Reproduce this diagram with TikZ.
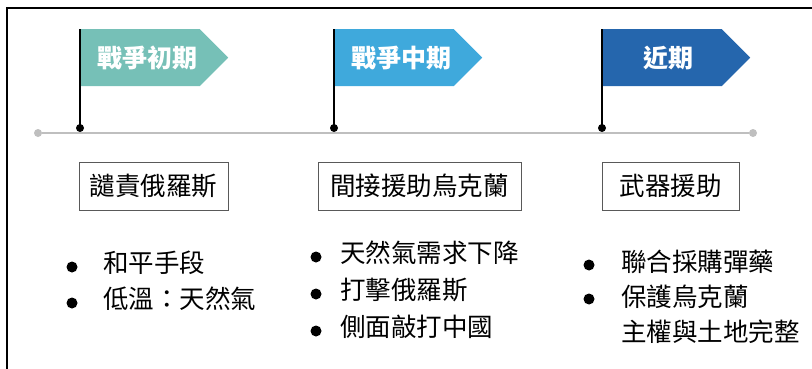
\documentclass[tikz,border=0pt]{standalone}
\usepackage{fontspec}
\newfontfamily\cjk{Noto Sans CJK TC}
\usepackage{tikz}
\usetikzlibrary{shapes.symbols}
\definecolor{flagteal}{HTML}{76C0B7}
\definecolor{flagblue}{HTML}{3FA9DC}
\definecolor{flagnavy}{HTML}{2566AD}
\definecolor{linegray}{HTML}{BFBFBF}
\definecolor{boxgray}{HTML}{595959}

\begin{document}
\begin{tikzpicture}[x=1pt,y=-1pt,
  flag/.style={shape=signal, signal to=east, signal pointer angle=90,
    minimum height=57pt, minimum width=147pt, inner sep=0pt, anchor=north west,
    text=white, font=\cjk\bfseries\fontsize{25}{30}\selectfont},
  phase/.style={draw=boxgray, line width=0.8pt, minimum height=48pt, inner sep=0pt,
    font=\cjk\fontsize{25.5}{30}\selectfont},
  item/.style={anchor=west, inner sep=0pt, font=\cjk\fontsize{25.5}{30}\selectfont},
  listdot/.style={circle, fill=black, inner sep=0pt, minimum size=11pt},
  enddot/.style={circle, fill=linegray, inner sep=0pt, minimum size=8pt},
  poledot/.style={circle, fill=black, inner sep=0pt, minimum size=8pt}]
\useasboundingbox (0,0) rectangle (812,369);
\draw[line width=2pt] (7,369) -- (7,8) -- (812,8);

% timeline
\node[enddot] (start) at (38,133) {};
\node[enddot] (end) at (753,133) {};
\draw[linegray, line width=2pt] (start) -- (end);

% flags
\node[poledot] (p1) at (80,128) {};
\node[poledot] (p2) at (334,128) {};
\node[poledot] (p3) at (602,128) {};
\node[flag, fill=flagteal] (f1) at (81,29) {\hspace*{14pt}戰爭初期};
\node[flag, fill=flagblue] (f2) at (335,29) {\hspace*{14pt}戰爭中期};
\node[flag, fill=flagnavy] (f3) at (603,29) {\hspace*{12pt}近期};
\draw[line width=1.6pt] (p1.center) -- (f1.north west -| p1);
\draw[line width=1.6pt] (p2.center) -- (f2.north west -| p2);
\draw[line width=1.6pt] (p3.center) -- (f3.north west -| p3);

% phases
\node[phase, minimum width=149pt] (b1) at (153.5,186) {譴責俄羅斯};
\node[phase, minimum width=203pt] (b2) at (419.5,186) {間接援助烏克蘭};
\node[phase, minimum width=137pt] (b3) at (670.5,186) {武器援助};

% lists
\node[listdot] (d11) at (72,267) {};
\node[item] (t11) at (103,263) {和平手段};
\node[listdot] (d12) at (72,303) {};
\node[item] (t12) at (103,299) {低溫：天然氣};

\node[listdot] (d21) at (316,257) {};
\node[item] (t21) at (340,253) {天然氣需求下降};
\node[listdot] (d22) at (316,294) {};
\node[item] (t22) at (340,290) {打擊俄羅斯};
\node[listdot] (d23) at (316,331) {};
\node[item] (t23) at (340,327) {側面敲打中國};

\node[listdot] (d31) at (589,265) {};
\node[item] (t31) at (621,262) {聯合採購彈藥};
\node[listdot] (d32) at (589,299) {};
\node[item] (t32) at (621,297) {保護烏克蘭};
\node[item] (t33) at (621,332) {主權與土地完整};
\end{tikzpicture}
\end{document}
